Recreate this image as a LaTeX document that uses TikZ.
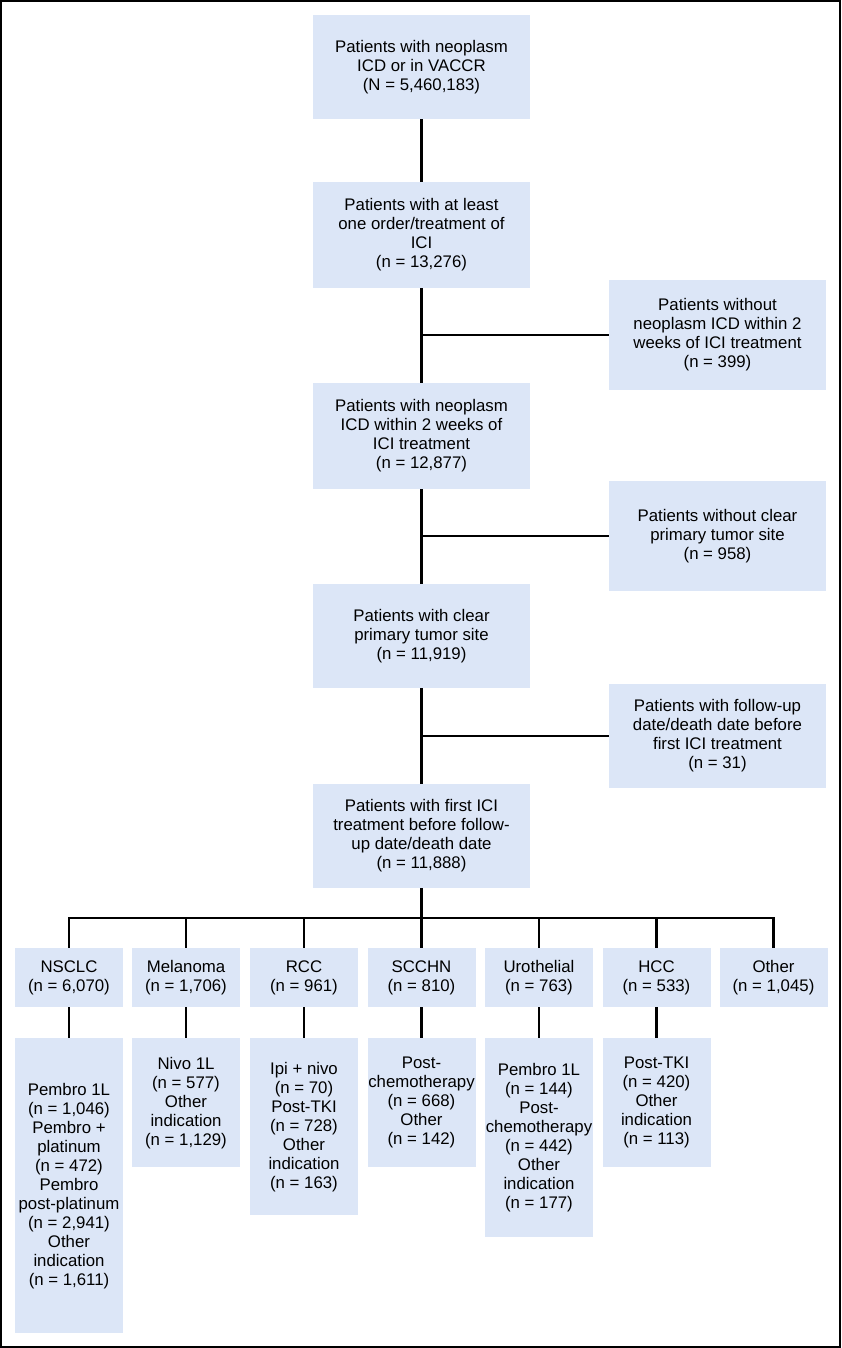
\documentclass[tikz,border=0pt]{standalone}
\usepackage{fontspec}
\setmainfont{Liberation Sans}
\definecolor{boxblue}{RGB}{220,230,247}
\tikzset{
  flowbox/.style={fill=boxblue, align=center, inner sep=0pt,
    font=\fontsize{16.8}{19}\selectfont},
  mainbox/.style={flowbox, minimum width=217, minimum height=105},
  sidebox/.style={flowbox, minimum width=217},
  sitebox/.style={flowbox, minimum width=108, minimum height=59},
  subbox/.style={flowbox, minimum width=108, anchor=north},
  link/.style={line width=2.4pt}
}
\begin{document}
\begin{tikzpicture}[x=1pt, y=-1pt]
    \useasboundingbox (0,0) rectangle (841,1348);
    \draw [line width=2.4pt] (1.2,1.2) rectangle (839.8,1346.8);
    % main column
    \node [mainbox, minimum height=104] (all) at (421.5, 67) {Patients with neoplasm\\ICD or in VACCR\\(N = 5,460,183)};
    \node [mainbox, minimum height=106] (ici) at (421.5, 235) {Patients with at least\\one order/treatment of\\ICI\\(n = 13,276)};
    \node [mainbox, minimum height=106] (icd) at (421.5, 436) {Patients with neoplasm\\ICD within 2 weeks of\\ICI treatment\\(n = 12,877)};
    \node [mainbox, minimum height=104] (site) at (421.5, 636) {Patients with clear\\primary tumor site\\(n = 11,919)};
    \node [mainbox, minimum height=104] (first) at (421.5, 836) {Patients with first ICI\\treatment before follow-\\up date/death date\\(n = 11,888)};
    % exclusions
    \node [sidebox, minimum height=110] (noicd) at (717.5, 335) {Patients without\\neoplasm ICD within 2\\weeks of ICI treatment\\(n = 399)};
    \node [sidebox, minimum height=110] (nosite) at (717.5, 536) {Patients without clear\\primary tumor site\\(n = 958)};
    \node [sidebox, minimum height=104] (early) at (717.5, 736) {Patients with follow-up\\date/death date before\\first ICI treatment\\(n = 31)};
    % tumor sites
    \node [sitebox] (nsclc) at (69, 977.5) {NSCLC\\(n = 6,070)};
    \node [sitebox] (mel) at (186, 977.5) {Melanoma\\(n = 1,706)};
    \node [sitebox] (rcc) at (304, 977.5) {RCC\\(n = 961)};
    \node [sitebox] (scchn) at (421.5, 977.5) {SCCHN\\(n = 810)};
    \node [sitebox] (uro) at (539, 977.5) {Urothelial\\(n = 763)};
    \node [sitebox] (hcc) at (656.5, 977.5) {HCC\\(n = 533)};
    \node [sitebox] (other) at (773.5, 977.5) {Other\\(n = 1,045)};
    % indications
    \node [subbox, minimum height=295] (nsclc') at (69, 1038) {Pembro 1L\\(n = 1,046)\\Pembro +\\platinum\\(n = 472)\\Pembro\\post-platinum\\(n = 2,941)\\Other\\indication\\(n = 1,611)};
    \node [subbox, minimum height=129] (mel') at (186, 1038) {Nivo 1L\\(n = 577)\\Other\\indication\\(n = 1,129)};
    \node [subbox, minimum height=177] (rcc') at (304, 1038) {Ipi + nivo\\(n = 70)\\Post-TKI\\(n = 728)\\Other\\indication\\(n = 163)};
    \node [subbox, minimum height=129] (scchn') at (421.5, 1038) {Post-\\chemotherapy\\(n = 668)\\Other\\(n = 142)};
    \node [subbox, minimum height=199] (uro') at (539, 1038) {Pembro 1L\\(n = 144)\\Post-\\chemotherapy\\(n = 442)\\Other\\indication\\(n = 177)};
    \node [subbox, minimum height=129] (hcc') at (656.5, 1038) {Post-TKI\\(n = 420)\\Other\\indication\\(n = 113)};
    % connectors
    \coordinate (j1) at (ici.south |- noicd.west);
    \coordinate (j2) at (icd.south |- nosite.west);
    \coordinate (j3) at (site.south |- early.west);
    \coordinate (bus) at (421.5, 918);
    \draw [link] (all.south) -- (ici.north);
    \draw [link] (ici.south) -- (icd.north);
    \draw [link] (icd.south) -- (site.north);
    \draw [link] (site.south) -- (first.north);
    \draw [link] (j1) -- (noicd.west);
    \draw [link] (j2) -- (nosite.west);
    \draw [link] (j3) -- (early.west);
    \draw [link] (first.south) -- (bus);
    \draw [link] (nsclc.north) |- (bus) -| (other.north);
    \foreach \s in {mel, rcc, scchn, uro, hcc}
      \draw [link] (\s.north) -- (\s.north |- bus);
    \foreach \s in {nsclc, mel, rcc, scchn, uro, hcc}
      \draw [link] (\s.south) -- (\s'.north);
\end{tikzpicture}
\end{document}
